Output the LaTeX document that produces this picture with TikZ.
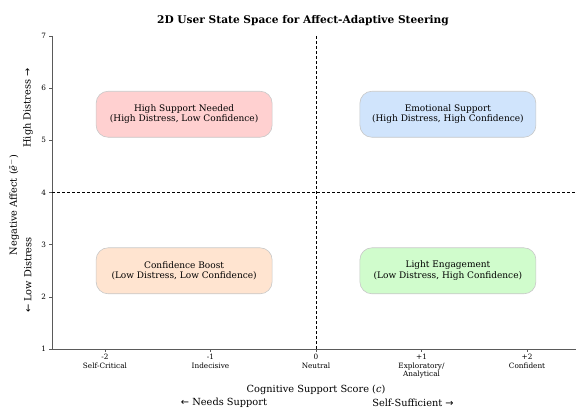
\documentclass[tikz,border=0pt]{standalone}
\usepackage{fontspec}
\setmainfont{DejaVu Serif}
\newfontfamily\arrowfont{DejaVu Sans}
\usetikzlibrary{positioning}

\definecolor{spinegray}{RGB}{90,90,90}
\definecolor{boxedge}{RGB}{200,200,200}
\definecolor{hsnfill}{RGB}{255,208,208}
\definecolor{emofill}{RGB}{208,228,252}
\definecolor{cbfill}{RGB}{255,228,208}
\definecolor{lefill}{RGB}{208,252,204}

\tikzset{
    quadbox/.style={draw=boxedge, line width=0.6pt, rounded corners=12pt,
        minimum width=176pt, minimum height=46pt, align=center,
        font=\fontsize{9}{10.6}\selectfont},
    ticklab/.style={font=\fontsize{7.3}{8.6}\selectfont, align=center},
    axlab/.style={font=\fontsize{9.8}{11.5}\selectfont},
    quadline/.style={black, line width=0.7pt, dash pattern=on 3pt off 2pt}
}

\begin{document}
\begin{tikzpicture}[x=105.5pt, y=52.17pt]
    \useasboundingbox (-2.995,-0.169) rectangle (2.464,7.690);

    % Title
    \node[font=\fontsize{10.6}{12}\selectfont\bfseries] (title) at (-0.123,7.29)
        {2D User State Space for Affect-Adaptive Steering};

    % Spines
    \coordinate (origin) at (-2.5,1);
    \coordinate (ytop) at (-2.5,7);
    \coordinate (xend) at (2.464,1);
    \draw[spinegray, line width=0.7pt] (ytop) -- (origin) -- (xend);

    % Quadrant dividers
    \coordinate (divL) at (-2.5,4);
    \coordinate (divR) at (2.464,4);
    \coordinate (divT) at (0,7);
    \coordinate (divB) at (0,1);
    \draw[quadline] (divL) -- (divR);
    \draw[quadline] (divT) -- (divB);

    % Y ticks
    \foreach \yv in {1,...,7} {
        \draw[spinegray, line width=0.6pt] (-2.5,\yv) -- ++(-3pt,0);
        \node[ticklab, anchor=east, inner sep=0pt] (ytick\yv) at ([xshift=-6pt]-2.5,\yv) {\yv};
    }

    % X ticks
    \foreach \xv/\num/\desc in {
        -2/-2/Self-Critical,
        -1/-1/Indecisive,
        0/0/Neutral,
        1/+1/{Exploratory/\\Analytical},
        2/+2/Confident
    } {
        \draw[spinegray, line width=0.6pt] (\xv,1) -- ++(0,-3pt);
        \node[ticklab, anchor=north, inner sep=0pt] (xtick\xv) at ([yshift=-5pt]\xv,1) {\num\\\desc};
    }

    % Axis labels
    \node[axlab] (xlabel) at (0,0.214) {Cognitive Support Score (\textit{c})};
    \node[axlab] (xneg) at (-0.872,-0.035) {{\arrowfont ←} Needs Support};
    \node[axlab] (xpos) at (0.919,-0.035) {Self-Sufficient {\arrowfont →}};
    \node[axlab, rotate=90] (ylabel) at (-2.863,3.761) {Negative Affect (\textit{ē}$^{-}$)};
    \node[axlab, rotate=90] (yneg) at (-2.730,2.419) {{\arrowfont ←} Low Distress};
    \node[axlab, rotate=90] (ypos) at (-2.730,5.62) {High Distress {\arrowfont →}};

    % Quadrant boxes
    \node[quadbox, fill=hsnfill] (hsn) at (-1.25,5.5) {High Support Needed\\(High Distress, Low Confidence)};
    \node[quadbox, fill=emofill] (emo) at (1.25,5.5) {Emotional Support\\(High Distress, High Confidence)};
    \node[quadbox, fill=cbfill] (cb) at (-1.25,2.5) {Confidence Boost\\(Low Distress, Low Confidence)};
    \node[quadbox, fill=lefill] (le) at (1.25,2.5) {Light Engagement\\(Low Distress, High Confidence)};
\end{tikzpicture}
\end{document}
